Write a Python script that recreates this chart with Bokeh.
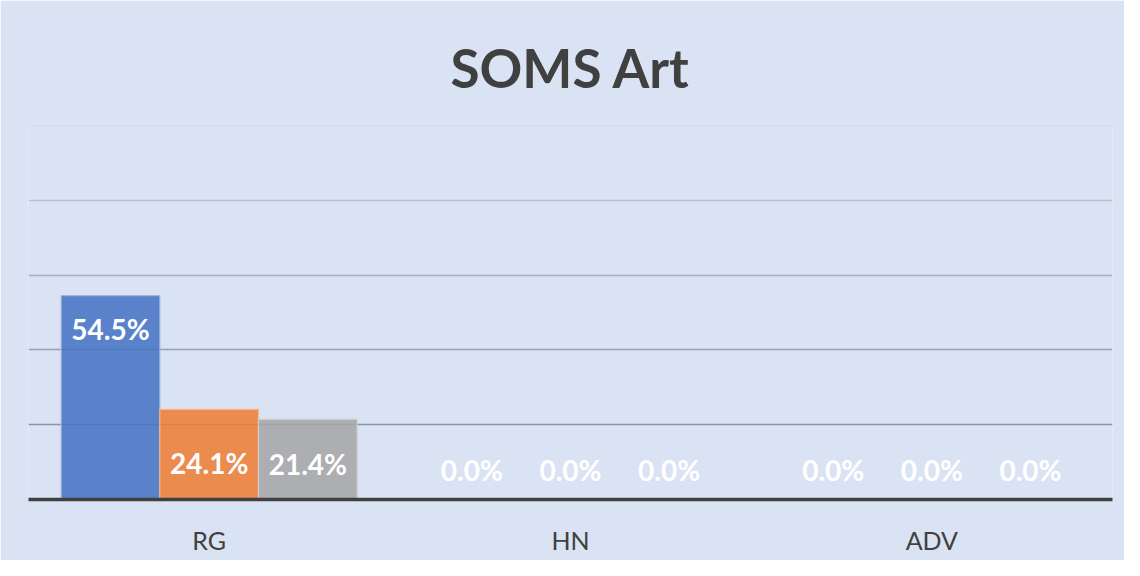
import numpy as np
from bokeh.plotting import figure
from bokeh.models import ColumnDataSource, FactorRange, Range1d, Title
from bokeh.transform import dodge
from bokeh.core.properties import value
from bokeh.embed import file_html
from bokeh.resources import INLINE

# ---- data ----
categories = ["RG", "HN", "ADV"]
series_1 = [54.5, 0.0, 0.0]
series_2 = [24.1, 0.0, 0.0]
series_3 = [21.4, 0.0, 0.0]
y_ticks = [20, 40, 60, 80, 100]
title_text = "SOMS Art"

series = [series_1, series_2, series_3]
colors = ["#4472C4", "#ED7D31", "#A5A5A5"]
edge_colors = ["#9DB3E0", "#F5B88F", "#CFCFCF"]
offsets = [-0.273, 0.0, 0.273]
bar_w = 0.273
BG = "#DAE3F3"

p = figure(
    width=1124, height=560,
    x_range=FactorRange(*categories),
    y_range=Range1d(0, 100),
    output_backend="svg", toolbar_location=None,
    min_border_left=28, min_border_right=12,
    min_border_top=125, min_border_bottom=61,
    background_fill_color=BG, border_fill_color=BG,
    outline_line_color=None,
)

p.title = Title(text=title_text, align="center",
                text_font="Lato", text_font_size="53px",
                text_line_height=0.9,
                text_font_style="bold", text_color="#404040", standoff=54)

# gridlines (fading from bottom to top)
grid_colors = ["#8A93A2", "#97A0AE", "#A7AFBC", "#BAC2CE", "#CBD3DE"]
p.hspan(y=y_ticks, line_color=grid_colors, line_width=1.5)
p.xgrid.grid_line_color = None
p.ygrid.grid_line_color = None

for vals, col, ecol, off in zip(series, colors, edge_colors, offsets):
    v = np.array(vals)
    label_y = np.where(v > 40, v - 9.0, 8.0 + 0.07 * v)
    src = ColumnDataSource(dict(
        cat=categories, val=vals,
        lab=[f"{x:.1f}%" for x in vals],
        ly=label_y,
    ))
    xd = dodge("cat", off, range=p.x_range)
    p.vbar(x=xd, top="val", width=bar_w, source=src,
           fill_color=col, fill_alpha=0.86,
           line_color=ecol, line_width=1.2)
    p.text(x=xd, y="ly", text="lab", source=src,
           text_align="center", text_baseline="middle",
           text_color="white", text_font=value("Lato"),
           text_font_size="28px", text_font_style="bold")

# axes
p.yaxis.visible = False
xa = p.xaxis[0]
xa.axis_line_color = "#404040"
xa.axis_line_width = 3.5
xa.major_tick_line_color = None
xa.minor_tick_line_color = None
xa.major_label_text_font = "Lato"
xa.major_label_text_font_size = "25px"
xa.major_label_text_color = "#404040"
xa.major_label_standoff = 19

open("out.html", "w").write(file_html(p, INLINE))
